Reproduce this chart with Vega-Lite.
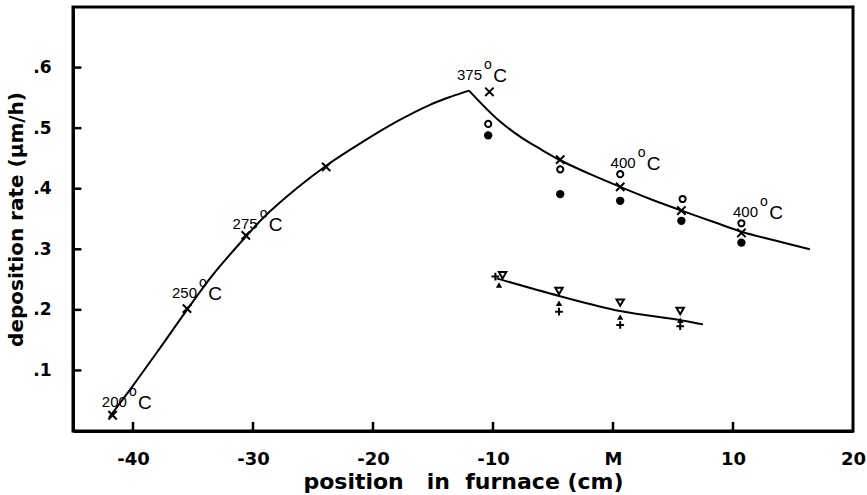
{
  "$schema": "https://vega.github.io/schema/vega-lite/v6.json",
  "width": 780,
  "height": 424,
  "autosize": {"type": "none"},
  "padding": {"left": 73, "top": 7, "right": 14, "bottom": 64},
  "background": "white",
  "config": {
    "view": {"stroke": "black", "strokeWidth": 3},
    "axis": {
      "grid": false,
      "domainColor": "black",
      "domainWidth": 3,
      "ticks": false,
      "labelColor": "black",
      "labelFont": "DejaVu Sans",
      "labelFontWeight": "bold",
      "titleColor": "black",
      "titleFont": "DejaVu Sans",
      "titleFontWeight": "bold"
    }
  },
  "datasets": {
    "curves": [
      {"x": -42.0, "y": 0.022, "seg": "up"},
      {"x": -40.0, "y": 0.075, "seg": "up"},
      {"x": -38.0, "y": 0.130, "seg": "up"},
      {"x": -35.5, "y": 0.200, "seg": "up"},
      {"x": -33.3, "y": 0.259, "seg": "up"},
      {"x": -30.5, "y": 0.323, "seg": "up"},
      {"x": -29.1, "y": 0.353, "seg": "up"},
      {"x": -26.4, "y": 0.400, "seg": "up"},
      {"x": -23.9, "y": 0.438, "seg": "up"},
      {"x": -20.8, "y": 0.478, "seg": "up"},
      {"x": -18.0, "y": 0.511, "seg": "up"},
      {"x": -15.3, "y": 0.538, "seg": "up"},
      {"x": -13.5, "y": 0.552, "seg": "up"},
      {"x": -12.0, "y": 0.562, "seg": "up"},
      {"x": -12.0, "y": 0.562, "seg": "down"},
      {"x": -9.7, "y": 0.516, "seg": "down"},
      {"x": -7.75, "y": 0.486, "seg": "down"},
      {"x": -6.1, "y": 0.466, "seg": "down"},
      {"x": -4.4, "y": 0.447, "seg": "down"},
      {"x": -1.9, "y": 0.424, "seg": "down"},
      {"x": 0.6, "y": 0.403, "seg": "down"},
      {"x": 3.1, "y": 0.383, "seg": "down"},
      {"x": 5.7, "y": 0.364, "seg": "down"},
      {"x": 8.4, "y": 0.345, "seg": "down"},
      {"x": 10.7, "y": 0.329, "seg": "down"},
      {"x": 13.6, "y": 0.314, "seg": "down"},
      {"x": 16.4, "y": 0.300, "seg": "down"},
      {"x": -9.7, "y": 0.252, "seg": "low"},
      {"x": -4.5, "y": 0.223, "seg": "low"},
      {"x": 0.6, "y": 0.198, "seg": "low"},
      {"x": 5.6, "y": 0.183, "seg": "low"},
      {"x": 7.5, "y": 0.176, "seg": "low"}
    ],
    "markers": [
      {"x": -41.7, "y": 0.026, "kind": "x"},
      {"x": -35.5, "y": 0.202, "kind": "x"},
      {"x": -30.6, "y": 0.323, "kind": "x"},
      {"x": -23.9, "y": 0.436, "kind": "x"},
      {"x": -10.3, "y": 0.560, "kind": "x"},
      {"x": -4.4, "y": 0.448, "kind": "x"},
      {"x": 0.6, "y": 0.403, "kind": "x"},
      {"x": 5.7, "y": 0.364, "kind": "x"},
      {"x": 10.7, "y": 0.327, "kind": "x"},
      {"x": -10.4, "y": 0.507, "kind": "o"},
      {"x": -4.4, "y": 0.432, "kind": "o"},
      {"x": 0.6, "y": 0.424, "kind": "o"},
      {"x": 5.8, "y": 0.383, "kind": "o"},
      {"x": 10.7, "y": 0.343, "kind": "o"},
      {"x": -10.4, "y": 0.488, "kind": "dot"},
      {"x": -4.4, "y": 0.391, "kind": "dot"},
      {"x": 0.6, "y": 0.380, "kind": "dot"},
      {"x": 5.7, "y": 0.347, "kind": "dot"},
      {"x": 10.7, "y": 0.311, "kind": "dot"},
      {"x": -9.2, "y": 0.257, "kind": "tdown"},
      {"x": -4.5, "y": 0.231, "kind": "tdown"},
      {"x": 0.6, "y": 0.212, "kind": "tdown"},
      {"x": 5.6, "y": 0.198, "kind": "tdown"},
      {"x": -9.5, "y": 0.241, "kind": "tup"},
      {"x": -4.5, "y": 0.211, "kind": "tup"},
      {"x": 0.6, "y": 0.188, "kind": "tup"},
      {"x": 5.6, "y": 0.183, "kind": "tup"},
      {"x": -9.8, "y": 0.255, "kind": "plus"},
      {"x": -4.5, "y": 0.197, "kind": "plus"},
      {"x": 0.6, "y": 0.175, "kind": "plus"},
      {"x": 5.6, "y": 0.173, "kind": "plus"}
    ],
    "labels": [
      {"x": -42.6, "y": 0.048, "num": "200"},
      {"x": -36.75, "y": 0.228, "num": "250"},
      {"x": -31.7, "y": 0.342, "num": "275"},
      {"x": -13.0, "y": 0.588, "num": "375"},
      {"x": -0.2, "y": 0.443, "num": "400"},
      {"x": 10.0, "y": 0.361, "num": "400"}
    ],
    "xticks": [
      {"x": -40, "y0": 0, "y1": 0.015}, {"x": -30, "y0": 0, "y1": 0.015}, {"x": -20, "y0": 0, "y1": 0.015},
      {"x": -10, "y0": 0, "y1": 0.015}, {"x": 0, "y0": 0, "y1": 0.015}, {"x": 10, "y0": 0, "y1": 0.015}
    ],
    "yticks": [
      {"y": 0.1, "x0": -45, "x1": -44.3}, {"y": 0.2, "x0": -45, "x1": -44.3}, {"y": 0.3, "x0": -45, "x1": -44.3},
      {"y": 0.4, "x0": -45, "x1": -44.3}, {"y": 0.5, "x0": -45, "x1": -44.3}, {"y": 0.6, "x0": -45, "x1": -44.3}
    ]
  },
  "layer": [
    {
      "data": {"name": "curves"},
      "mark": {"type": "line", "interpolate": "catmull-rom", "color": "black", "strokeWidth": 2},
      "encoding": {
        "x": {
          "field": "x", "type": "quantitative",
          "scale": {"domain": [-45, 20], "nice": false, "zero": false},
          "axis": {
            "title": "position\u00a0\u00a0\u00a0in\u00a0\u00a0furnace (cm)",
            "values": [-40, -30, -20, -10, 0, 10, 20],
            "labelExpr": "datum.value == 0 ? 'M' : (datum.value < 0 ? '-' + abs(datum.value) : '' + datum.value)",
            "labelFontSize": 18,
            "labelPadding": 19,
            "labelFlush": false,
            "titleFontSize": 22,
            "titlePadding": 3
          }
        },
        "y": {
          "field": "y", "type": "quantitative",
          "scale": {"domain": [0, 0.7], "nice": false},
          "axis": {
            "title": "deposition rate (μm/h)",
            "values": [0.1, 0.2, 0.3, 0.4, 0.5, 0.6],
            "labelExpr": "'.' + round(datum.value * 10)",
            "labelFontSize": 17,
            "labelPadding": 22,
            "titleFontSize": 20,
            "titlePadding": 6
          }
        },
        "detail": {"field": "seg"}
      }
    },
    {
      "data": {"name": "xticks"},
      "mark": {"type": "rule", "color": "black", "strokeWidth": 2.5, "opacity": 1},
      "encoding": {
        "x": {"field": "x", "type": "quantitative"},
        "y": {"field": "y0", "type": "quantitative"},
        "y2": {"field": "y1"}
      }
    },
    {
      "data": {"name": "yticks"},
      "mark": {"type": "rule", "color": "black", "strokeWidth": 2.5, "opacity": 1},
      "encoding": {
        "y": {"field": "y", "type": "quantitative"},
        "x": {"field": "x0", "type": "quantitative"},
        "x2": {"field": "x1"}
      }
    },
    {
      "data": {"name": "markers"},
      "transform": [{"filter": "datum.kind == 'x'"}],
      "mark": {"type": "point", "shape": "M-1,-1L1,1M-1,1L1,-1", "size": 70, "filled": false, "stroke": "black", "strokeWidth": 2, "opacity": 1},
      "encoding": {"x": {"field": "x", "type": "quantitative"}, "y": {"field": "y", "type": "quantitative"}}
    },
    {
      "data": {"name": "markers"},
      "transform": [{"filter": "datum.kind == 'o'"}],
      "mark": {"type": "point", "shape": "circle", "size": 38, "filled": false, "stroke": "black", "strokeWidth": 2, "opacity": 1},
      "encoding": {"x": {"field": "x", "type": "quantitative"}, "y": {"field": "y", "type": "quantitative"}}
    },
    {
      "data": {"name": "markers"},
      "transform": [{"filter": "datum.kind == 'dot'"}],
      "mark": {"type": "point", "shape": "circle", "size": 70, "filled": true, "fill": "black", "opacity": 1},
      "encoding": {"x": {"field": "x", "type": "quantitative"}, "y": {"field": "y", "type": "quantitative"}}
    },
    {
      "data": {"name": "markers"},
      "transform": [{"filter": "datum.kind == 'tdown'"}],
      "mark": {"type": "point", "shape": "triangle-down", "size": 55, "filled": false, "stroke": "black", "strokeWidth": 2, "opacity": 1},
      "encoding": {"x": {"field": "x", "type": "quantitative"}, "y": {"field": "y", "type": "quantitative"}}
    },
    {
      "data": {"name": "markers"},
      "transform": [{"filter": "datum.kind == 'tup'"}],
      "mark": {"type": "point", "shape": "triangle-up", "size": 40, "filled": true, "fill": "black", "opacity": 1},
      "encoding": {"x": {"field": "x", "type": "quantitative"}, "y": {"field": "y", "type": "quantitative"}}
    },
    {
      "data": {"name": "markers"},
      "transform": [{"filter": "datum.kind == 'plus'"}],
      "mark": {"type": "point", "shape": "M-1,0L1,0M0,-1L0,1", "size": 60, "filled": false, "stroke": "black", "strokeWidth": 2, "opacity": 1},
      "encoding": {"x": {"field": "x", "type": "quantitative"}, "y": {"field": "y", "type": "quantitative"}}
    },
    {
      "data": {"name": "labels"},
      "mark": {"type": "text", "align": "left", "baseline": "middle", "font": "Liberation Sans", "fontSize": 15, "color": "black"},
      "encoding": {"x": {"field": "x", "type": "quantitative"}, "y": {"field": "y", "type": "quantitative"}, "text": {"field": "num"}}
    },
    {
      "data": {"name": "labels"},
      "mark": {"type": "text", "align": "center", "baseline": "middle", "font": "Liberation Sans", "fontSize": 14, "dx": 31, "dy": -10, "color": "black", "text": "o"},
      "encoding": {"x": {"field": "x", "type": "quantitative"}, "y": {"field": "y", "type": "quantitative"}}
    },
    {
      "data": {"name": "labels"},
      "mark": {"type": "text", "align": "center", "baseline": "middle", "font": "Liberation Sans", "fontSize": 19, "dx": 43, "dy": 1, "color": "black", "text": "C"},
      "encoding": {"x": {"field": "x", "type": "quantitative"}, "y": {"field": "y", "type": "quantitative"}}
    }
  ]
}
